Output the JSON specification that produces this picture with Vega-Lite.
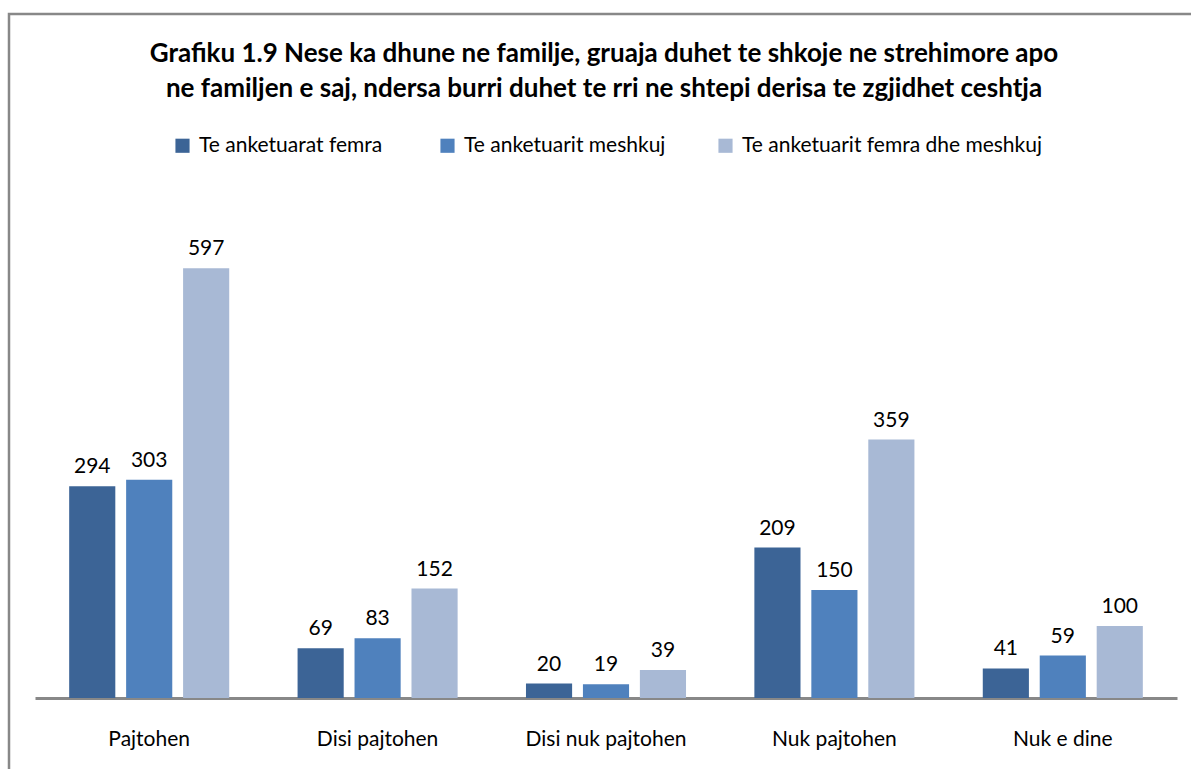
{
  "$schema": "https://vega.github.io/schema/vega-lite/v6.json",
  "autosize": "none",
  "width": 1190,
  "height": 770,
  "padding": {"left": 9, "top": 14, "right": 0, "bottom": 0},
  "background": "white",
  "config": {
    "view": {"stroke": "#888888", "strokeWidth": 2.5},
    "font": "Lato"
  },
  "title": {
    "text": ["Grafiku 1.9 Nese ka dhune ne familje, gruaja duhet te shkoje ne strehimore apo", "ne familjen e saj, ndersa burri duhet te rri ne shtepi derisa te zgjidhet ceshtja"],
    "anchor": "middle",
    "frame": "group",
    "offset": -88,
    "fontSize": 26,
    "fontWeight": "bold",
    "lineHeight": 35,
    "color": "#000000",
    "font": "Lato"
  },
  "data": {
    "values": [
      {"category": "Pajtohen", "series": "Te anketuarat  femra", "value": 294},
      {"category": "Pajtohen", "series": "Te anketuarit meshkuj", "value": 303},
      {"category": "Pajtohen", "series": "Te anketuarit femra dhe meshkuj", "value": 597},
      {"category": "Disi pajtohen", "series": "Te anketuarat  femra", "value": 69},
      {"category": "Disi pajtohen", "series": "Te anketuarit meshkuj", "value": 83},
      {"category": "Disi pajtohen", "series": "Te anketuarit femra dhe meshkuj", "value": 152},
      {"category": "Disi nuk pajtohen", "series": "Te anketuarat  femra", "value": 20},
      {"category": "Disi nuk pajtohen", "series": "Te anketuarit meshkuj", "value": 19},
      {"category": "Disi nuk pajtohen", "series": "Te anketuarit femra dhe meshkuj", "value": 39},
      {"category": "Nuk pajtohen", "series": "Te anketuarat  femra", "value": 209},
      {"category": "Nuk pajtohen", "series": "Te anketuarit meshkuj", "value": 150},
      {"category": "Nuk pajtohen", "series": "Te anketuarit femra dhe meshkuj", "value": 359},
      {"category": "Nuk e dine", "series": "Te anketuarat  femra", "value": 41},
      {"category": "Nuk e dine", "series": "Te anketuarit meshkuj", "value": 59},
      {"category": "Nuk e dine", "series": "Te anketuarit femra dhe meshkuj", "value": 100}
    ]
  },
  "encoding": {
    "x": {
      "field": "category",
      "type": "nominal",
      "sort": null,
      "scale": {"range": [26, 1168], "paddingInner": 0, "paddingOuter": 0},
      "axis": {
        "title": null,
        "orient": "bottom",
        "offset": -86,
        "domainColor": "#888888",
        "domainWidth": 3,
        "ticks": false,
        "labelAngle": 0,
        "labelPadding": 30,
        "labelFontSize": 21,
        "labelColor": "#000000",
        "labelFont": "Lato"
      }
    },
    "xOffset": {
      "field": "series",
      "type": "nominal",
      "sort": null,
      "scale": {"paddingInner": 0.19, "paddingOuter": 0.6}
    },
    "y": {
      "field": "value",
      "type": "quantitative",
      "scale": {"domain": [0, 700], "range": [684, 180], "nice": false},
      "axis": null
    }
  },
  "layer": [
    {
      "mark": {"type": "bar"},
      "encoding": {
        "color": {
          "field": "series",
          "type": "nominal",
          "sort": null,
          "scale": {"range": ["#3C6496", "#4F81BD", "#A8B9D5"]},
          "legend": {
            "title": null,
            "orient": "none",
            "direction": "horizontal",
            "legendX": 163,
            "legendY": 121,
            "symbolType": "square",
            "symbolSize": 200,
            "symbolStrokeWidth": 0,
            "labelFontSize": 21,
            "labelColor": "#000000",
            "labelFont": "Lato",
            "labelOffset": 6,
            "columnPadding": 49,
            "labelLimit": 400
          }
        }
      }
    },
    {
      "mark": {"type": "text", "baseline": "bottom", "dy": -9, "fontSize": 21, "color": "#000000", "font": "Lato"},
      "encoding": {
        "text": {"field": "value", "type": "quantitative"}
      }
    }
  ]
}
